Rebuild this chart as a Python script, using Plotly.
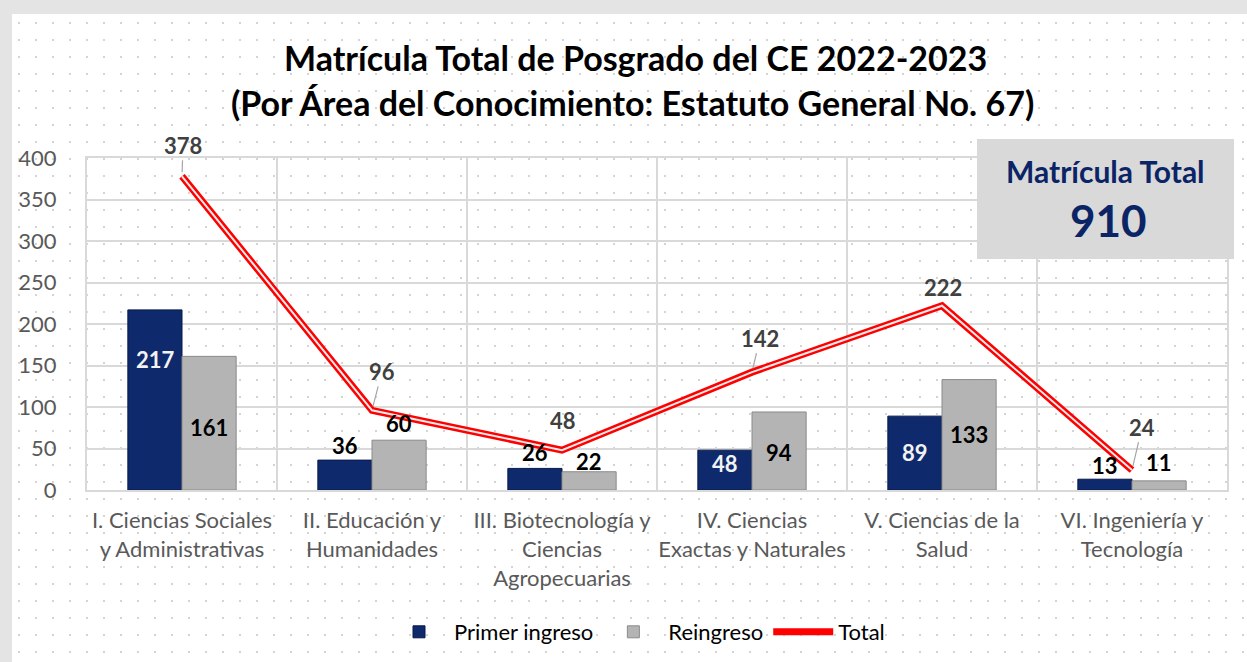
import base64
import plotly.graph_objects as go

# ---------------------------------------------------------------------------
# Data
# ---------------------------------------------------------------------------

categories = [
    "I. Ciencias Sociales<br>y Administrativas",
    "II. Educación y<br>Humanidades",
    "III. Biotecnología y<br>Ciencias<br>Agropecuarias",
    "IV. Ciencias<br>Exactas y Naturales",
    "V. Ciencias de la<br>Salud",
    "VI. Ingeniería y<br>Tecnología",
]
primer_ingreso = [217, 36, 26, 48, 89, 13]
reingreso = [161, 60, 22, 94, 133, 11]
total = [378, 96, 48, 142, 222, 24]
matricula_total = 910

# ---------------------------------------------------------------------------
# Label placement (pixel offsets from bar top / line point)
# ---------------------------------------------------------------------------

W, H = 1247, 662
L, R, T, B = 87, 20, 158, 172
PW, PH = W - L - R, H - T - B

FONT = "Lato"
NAVY = "#0e2a6c"
GREY_BAR = "#b4b4b4"

primer_shift = [-50, 15, 16, -13, -36, 14]
primer_txt_col = ["#f2f2f2", "black", "black", "#f2f2f2", "#f2f2f2", "black"]
reing_shift = [-71, 17, 10, -41, -55, 18]
total_off = [(1, -31, True), (10, -39, True), (1, -30, False),
             (8, -34, True), (1, -18, False), (10, -43, True)]


def px_x(px):
    return (px - L) / PW


def px_y(py):
    return (H - B - py) / PH


# dotted page background with grey frame (svg data uri)
dots = []
for yy in range(22, H, 17):
    for xx in range(18, W, 17):
        dots.append(f'<rect x="{xx}" y="{yy}" width="2" height="2" fill="#d4d4d4"/>')
svg = (f'<svg xmlns="http://www.w3.org/2000/svg" width="{W}" height="{H}">'
       f'<rect width="{W}" height="{H}" fill="#e4e4e4"/>'
       f'<rect x="12" y="14" width="{W - 12}" height="{H - 14}" fill="white"/>'
       + "".join(dots) + "</svg>")
bg_uri = "data:image/svg+xml;base64," + base64.b64encode(svg.encode()).decode()

fig = go.Figure()

fig.add_trace(go.Bar(
    x=categories, y=primer_ingreso, name="Primer ingreso",
    marker=dict(color=NAVY, line=dict(color="#071a4a", width=1)),
))
fig.add_trace(go.Bar(
    x=categories, y=reingreso, name="Reingreso",
    marker=dict(color=GREY_BAR, line=dict(color="#8a8a8a", width=1)),
))
fig.add_trace(go.Scatter(
    x=categories, y=total, name="Total", mode="lines",
    line=dict(color="#ff0000", width=7),
))
fig.add_trace(go.Scatter(
    x=categories, y=total, mode="lines", showlegend=False,
    line=dict(color="#ececec", width=2),
))

ann = []
for i, cat in enumerate(categories):
    ann.append(dict(x=cat, y=primer_ingreso[i], xref="x", yref="y",
                    text=f"<b>{primer_ingreso[i]}</b>", showarrow=False,
                    xshift=-27, yshift=primer_shift[i],
                    font=dict(family=FONT, size=22, color=primer_txt_col[i])))
    ann.append(dict(x=cat, y=reingreso[i], xref="x", yref="y",
                    text=f"<b>{reingreso[i]}</b>", showarrow=False,
                    xshift=27, yshift=reing_shift[i],
                    font=dict(family=FONT, size=22, color="black")))
    ax, ay, leader = total_off[i]
    ann.append(dict(x=cat, y=total[i], xref="x", yref="y",
                    text=f"<b>{total[i]}</b>", showarrow=True,
                    ax=ax, ay=ay, arrowhead=0, arrowwidth=1.2,
                    arrowcolor="#a6a6a6" if leader else "rgba(0,0,0,0)",
                    standoff=4,
                    font=dict(family=FONT, size=22, color="#404040")))


def paper_text(x, y, text, size, color):
    return dict(x=px_x(x), y=px_y(y), xref="paper", yref="paper",
                xanchor="center", yanchor="middle", text=text,
                showarrow=False, font=dict(family=FONT, size=size, color=color))


# title
ann.append(paper_text(635, 57, "<b>Matrícula Total de Posgrado del CE 2022-2023</b>",
                      34, "black"))
ann.append(paper_text(632, 103, "<b>(Por Área del Conocimiento: Estatuto General No. 67)</b>",
                      34, "black"))
# total box
ann.append(paper_text(1105, 171, "<b>Matrícula Total</b>", 30, "#0b2466"))
ann.append(paper_text(1108, 220, f"<b>{matricula_total}</b>", 44, "#0b2466"))

fig.update_layout(
    width=W, height=H,
    margin=dict(l=L, r=R, t=T, b=B, autoexpand=False),
    paper_bgcolor="white",
    plot_bgcolor="rgba(0,0,0,0)",
    barmode="group", bargap=0.43, bargroupgap=0,
    font=dict(family=FONT, size=22, color="#595959"),
    showlegend=True,
    legend=dict(orientation="h", x=px_x(637), y=px_y(632),
                xanchor="center", yanchor="middle",
                font=dict(family=FONT, size=22, color="black"),
                bgcolor="rgba(0,0,0,0)", itemwidth=60),
    annotations=ann,
    shapes=[dict(type="rect", xref="paper", yref="paper",
                 x0=px_x(977), x1=px_x(1234), y0=px_y(259), y1=px_y(139),
                 fillcolor="#d9d9d9", line=dict(width=0), layer="above")],
    images=[dict(source=bg_uri, xref="paper", yref="paper",
                 x=px_x(0), y=px_y(0), sizex=W / PW, sizey=H / PH,
                 xanchor="left", yanchor="top", sizing="stretch",
                 layer="below")],
)

fig.update_xaxes(
    tickson="boundaries", showgrid=True, gridcolor="#d9d9d9", gridwidth=2,
    showline=True, linecolor="#d9d9d9", linewidth=2, mirror=True,
    ticks="", ticklabelstandoff=10, tickangle=0, automargin=False,
    tickfont=dict(family=FONT, size=22, color="#595959"),
)
fig.update_yaxes(
    range=[0, 400], dtick=50, showgrid=True, gridcolor="#d9d9d9", gridwidth=2,
    showline=True, linecolor="#d9d9d9", linewidth=2, mirror=True,
    zeroline=False, ticks="", ticklabelstandoff=24, automargin=False,
    tickfont=dict(family=FONT, size=22, color="#595959"),
)

fig.write_html("out.html", config={"displayModeBar": False},
               post_script="document.body.style.margin='0';"
                           "document.body.style.overflow='hidden';")
